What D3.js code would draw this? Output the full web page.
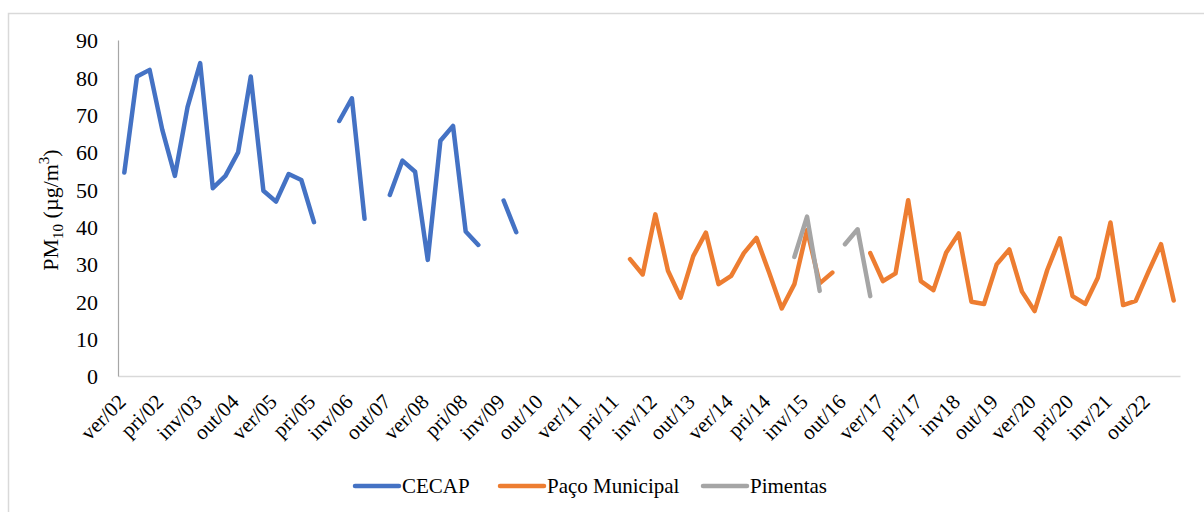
<!DOCTYPE html>
<html>
<head>
<meta charset="utf-8">
<script src="https://cdn.jsdelivr.net/npm/d3@7"></script>
<style>
  body { margin: 0; background: #fff; }
  #chart { position: relative; width: 1204px; height: 512px; }
  #chart svg { position: absolute; left: 0; top: 0; }
  text { font-family: "Liberation Serif", "Times New Roman", serif; fill: #000; }
  .xlab {
    position: absolute;
    font-family: "Liberation Serif", "Times New Roman", serif;
    font-size: 21px;
    line-height: 21px;
    white-space: nowrap;
    color: #000;
    transform-origin: 100% 84%;
    transform: rotate(-45deg);
  }
</style>
</head>
<body>
<div id="chart"><svg width="1204" height="512"></svg></div>
<script>
// season/year categories, one per quarter
var categories = [
  'ver/02','out/02','inv/02','pri/02','ver/03','out/03','inv/03','pri/03',
  'ver/04','out/04','inv/04','pri/04','ver/05','out/05','inv/05','pri/05',
  'ver/06','out/06','inv/06','pri/06','ver/07','out/07','inv/07','pri/07',
  'ver/08','out/08','inv/08','pri/08','ver/09','out/09','inv/09','pri/09',
  'ver/10','out/10','inv/10','pri/10','ver/11','out/11','inv/11','pri/11',
  'ver/12','out/12','inv/12','pri/12','ver/13','out/13','inv/13','pri/13',
  'ver/14','out/14','inv/14','pri/14','ver/15','out/15','inv/15','pri/15',
  'ver/16','out/16','inv/16','pri/16','ver/17','out/17','inv/17','pri/17',
  'ver/18','out/18','inv18','pri/18','ver/19','out/19','inv/19','pri/19',
  'ver/20','out/20','inv/20','pri/20','ver/21','out/21','inv/21','pri/21',
  'ver/22','out/22','inv/22','pri/22'
];
// only every third label is printed
var tickLabels = categories.filter((c, i) => i % 3 === 0);
var yTicks = [0, 10, 20, 30, 40, 50, 60, 70, 80, 90];

var N = null;
var cecap = [
  54.5, 80.2, 82.0, 66.0, 53.6, 72.0, 83.8, 50.3, 53.6, 59.9, 80.2, 49.6, 46.7, 54.1, 52.5, 41.2,
  N, 68.3, 74.4, 42.1, N, 48.5, 57.7, 54.7, 31.1, 63.0, 67.0, 38.7, 35.1, N, 47.0, 38.5,
  N, N, N, N, N, N, N, N, N, N, N, N, N, N, N, N, N, N, N, N, N, N, N, N, N, N, N, N,
  N, N, N, N, N, N, N, N, N, N, N, N, N, N, N, N, N, N, N, N, N, N, N, N
];
var paco = [
  N, N, N, N, N, N, N, N, N, N, N, N, N, N, N, N, N, N, N, N,
  N, N, N, N, N, N, N, N, N, N, N, N, N, N, N, N, N, N, N, N,
  31.3, 27.2, 43.3, 28.2, 21.0, 32.1, 38.4, 24.6, 26.8, 32.9, 37.0, 27.7, 18.1, 24.6, 39.1, 24.8, 27.7,
  N, N,
  32.9, 25.4, 27.5, 47.1, 25.4, 23.0, 33.0, 38.2, 19.9, 19.3, 29.9, 33.9, 22.6, 17.4, 28.4, 36.9,
  21.4, 19.3, 26.3, 41.1, 19.0, 20.1, 27.9, 35.3, 20.2
];
var pimentas = categories.map(() => null);
pimentas[53] = 31.9; pimentas[54] = 42.7; pimentas[55] = 22.8;
pimentas[57] = 35.3; pimentas[58] = 39.3; pimentas[59] = 21.4;

var seriesNames = ['CECAP', 'Paço Municipal', 'Pimentas'];
var colors = ['#4472C4', '#ED7D31', '#A5A5A5'];
var series = [cecap, paco, pimentas];

var margin = {top: 40, left: 118, right: 24, bottom: 136};
var width = 1204;
var height = 512;
var serif = '"Liberation Serif", "Times New Roman", serif';

var svg = d3.select('svg');

// outer chart frame
svg.append('rect')
  .attr('x', 8.5).attr('y', 13.5)
  .attr('width', 1220).attr('height', 520)
  .attr('fill', 'none')
  .attr('stroke', '#d9d9d9')
  .attr('stroke-width', 1.5);

var xScale = d3.scaleBand()
  .domain(categories)
  .range([margin.left, width - margin.right]);

var yScale = d3.scaleLinear()
  .domain([0, 90])
  .range([height - margin.bottom, margin.top]);

var xAxis = svg.append('g')
  .attr('transform', 'translate(0,' + yScale(0) + ')')
  .call(d3.axisBottom(xScale).tickValues(tickLabels).tickSize(0).tickSizeOuter(0).tickFormat(''));
xAxis.select('.domain').attr('stroke', '#d9d9d9').attr('stroke-width', 1.5);

// slanted category labels as html, right end of baseline pinned at the tick
d3.select('#chart').selectAll('div.xlab')
  .data(tickLabels)
  .enter().append('div')
  .attr('class', 'xlab')
  .style('right', d => (width - (xScale(d) + xScale.bandwidth() / 2 + 3)) + 'px')
  .style('top', (404 - 0.84 * 21) + 'px')
  .text(d => d);

var yAxis = svg.append('g')
  .attr('transform', 'translate(' + margin.left + ',0)')
  .call(d3.axisLeft(yScale).tickValues(yTicks).tickSize(0).tickPadding(20));
yAxis.select('.domain').attr('stroke', '#a6a6a6').attr('stroke-width', 1.2);
yAxis.selectAll('text').attr('font-family', serif).style('font-size', '22px').attr('dy', '0.35em');

// y title with sub/superscript
var title = svg.append('text')
  .attr('transform', 'translate(58,' + (yScale(45) + 2) + ') rotate(-90)')
  .attr('text-anchor', 'middle')
  .attr('font-family', serif)
  .style('font-size', '22px');
title.append('tspan').text('PM');
title.append('tspan').attr('dy', 5).style('font-size', '15px').text('10');
title.append('tspan').attr('dy', -5).text(' (µg/m');
title.append('tspan').attr('dy', -9).style('font-size', '15px').text('3');
title.append('tspan').attr('dy', 9).text(')');

var line = d3.line()
  .defined(d => d != null)
  .x((d, i) => xScale(categories[i]) + xScale.bandwidth() / 2)
  .y(d => yScale(d));

series.forEach((s, k) => {
  svg.append('path')
    .datum(s)
    .attr('d', line)
    .attr('fill', 'none')
    .attr('stroke', colors[k])
    .attr('stroke-width', 4.5)
    .attr('stroke-linecap', 'round')
    .attr('stroke-linejoin', 'round');
});

// legend
var legendX = [355, 500, 703];
var legend = svg.selectAll('.legend')
  .data(seriesNames)
  .enter().append('g')
  .attr('transform', (d, i) => 'translate(' + legendX[i] + ',486)');
legend.append('line')
  .attr('x1', 0).attr('x2', 44)
  .attr('stroke', (d, i) => colors[i])
  .attr('stroke-width', 4.5)
  .attr('stroke-linecap', 'round');
legend.append('text')
  .attr('x', 47)
  .attr('dy', '0.35em')
  .attr('font-family', serif)
  .style('font-size', '21px')
  .text(d => d);
</script>
</body>
</html>
